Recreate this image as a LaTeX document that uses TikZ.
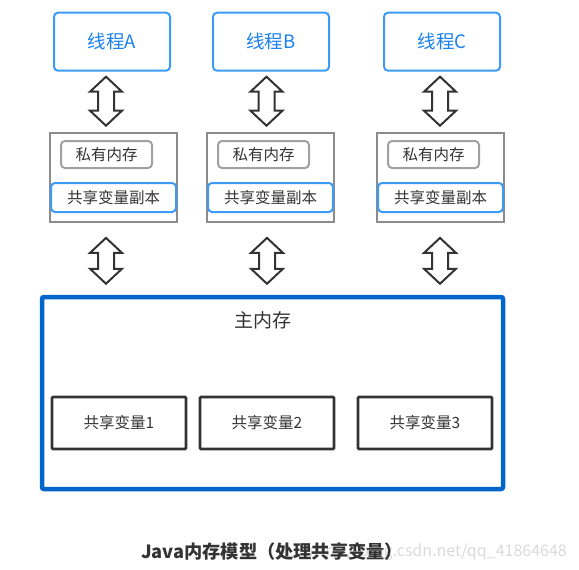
\documentclass[tikz,border=0pt]{standalone}
\usepackage{fontspec}
\setmainfont{Noto Sans CJK SC}
\usetikzlibrary{calc}
\definecolor{tblue}{HTML}{3C9BF5}
\definecolor{ttext}{HTML}{1A80F0}
\definecolor{mgray}{HTML}{8C8C8C}
\definecolor{pgray}{HTML}{A0A0A0}
\definecolor{dtext}{HTML}{333333}
\definecolor{mainblue}{HTML}{0066CC}
\definecolor{wm}{HTML}{DADADA}
\tikzset{
  thread/.style={draw=tblue, line width=2pt, rounded corners=4pt, minimum width=116pt, minimum height=58pt, inner sep=0pt, text=ttext, font=\fontsize{18.5}{20}\selectfont},
  membox/.style={draw=mgray, line width=2.2pt, minimum width=127pt, minimum height=89pt, inner sep=0pt},
  privbox/.style={draw=pgray, line width=2pt, rounded corners=4pt, minimum width=91pt, minimum height=27pt, inner sep=0pt, text=dtext, font=\fontsize{15.5}{17}\selectfont},
  copybox/.style={draw=tblue, line width=2pt, rounded corners=4pt, minimum width=125pt, minimum height=29pt, inner sep=0pt, text=dtext, font=\fontsize{15.5}{17}\selectfont},
  mainbox/.style={draw=mainblue, line width=4.5pt, rounded corners=2pt, minimum width=461pt, minimum height=192pt, inner sep=0pt},
  varbox/.style={draw=dtext, line width=2.6pt, rounded corners=1pt, minimum width=134pt, minimum height=52pt, inner sep=0pt, text=dtext, font=\fontsize{15.5}{17}\selectfont},
  dbl/.style={draw=dtext, line width=2pt, fill=white, line join=miter},
}
\newcommand\dbarrow[2]{%
  \draw[dbl] let \p1=(#1), \p2=(#2) in
    (\x1,\y1) -- (\x1+16pt,\y1-15pt) -- (\x1+8pt,\y1-15pt) -- (\x1+8pt,\y2+15pt)
    -- (\x1+16pt,\y2+15pt) -- (\x1,\y2) -- (\x1-16pt,\y2+15pt) -- (\x1-8pt,\y2+15pt)
    -- (\x1-8pt,\y1-15pt) -- (\x1-16pt,\y1-15pt) -- cycle;}
\begin{document}
\begin{tikzpicture}[x=1pt,y=-1pt]
\useasboundingbox (0,0) rectangle (579,570);
% threads
\node[thread] (tA) at (112,41.7) {线程A};
\node[thread] (tB) at (271,41.7) {线程B};
\node[thread] (tC) at (442,41.7) {线程C};
% working memories
\foreach \n/\L in {A/50,B/207,C/377}{
  \node[membox] (m\n) at (\L+63.5,177.3) {};
  \node[privbox] (p\n) at (\L+56.5,154.5) {私有内存};
  \node[copybox] (c\n) at (\L+63.5,197.5) {共享变量副本};
}
% main memory
\node[mainbox] (main) at (272.5,393) {};
\node[text=dtext, font=\fontsize{19}{21}\selectfont] (mainlbl) at (263,320) {主内存};
\node[varbox] (v1) at (119,423) {共享变量1};
\node[varbox] (v2) at (267,423) {共享变量2};
\node[varbox] (v3) at (425,423) {共享变量3};
% arrow end points
\coordinate (aAt) at ([xshift=-6pt,yshift=-5pt]tA.south);
\coordinate (aAb) at ([yshift=6pt]mA.north);
\coordinate (aBt) at ([xshift=-4.5pt,yshift=-5pt]tB.south);
\coordinate (aBb) at ([yshift=6pt]mB.north);
\coordinate (aCt) at ([xshift=-2pt,yshift=-5pt]tC.south);
\coordinate (aCb) at ([yshift=6pt]mC.north);
\dbarrow{aAt}{aAb}
\dbarrow{aBt}{aBb}
\dbarrow{aCt}{aCb}
\coordinate (bAt) at ([xshift=-7.5pt,yshift=-15pt]mA.south);
\coordinate (bAb) at ([yshift=11pt]main.north);
\coordinate (bBt) at ([xshift=-3.5pt,yshift=-15pt]mB.south);
\coordinate (bBb) at ([yshift=11pt]main.north);
\coordinate (bCt) at ([xshift=-0.5pt,yshift=-15pt]mC.south);
\coordinate (bCb) at ([yshift=11pt]main.north);
\dbarrow{bAt}{bAb}
\dbarrow{bBt}{bBb}
\dbarrow{bCt}{bCb}
% caption
\node[anchor=east, text=wm, font=\fontsize{16}{18}\selectfont, inner sep=0pt] (wmark) at (567,552) {https://blog.csdn.net/qq\_41864648};
\node[text=dtext, font=\fontsize{18.2}{20}\selectfont\bfseries, inner sep=0pt] (title) at (272,552) {Java内存模型（处理共享变量）};
\end{tikzpicture}
\end{document}
